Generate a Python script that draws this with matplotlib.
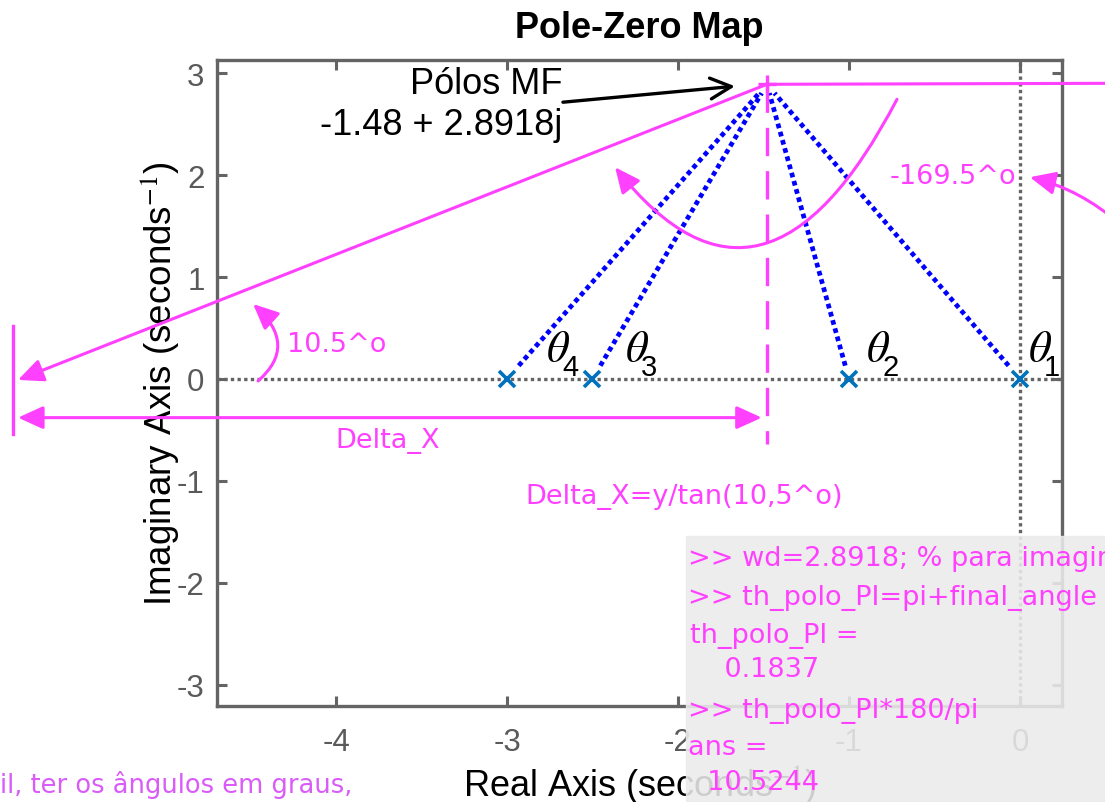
import numpy as np
import matplotlib.pyplot as plt
from matplotlib.patches import FancyArrowPatch, Rectangle
from matplotlib.path import Path

plt.rcParams['font.family'] = ['Liberation Sans', 'DejaVu Sans']
plt.rcParams['mathtext.fontset'] = 'stix'
plt.rcParams['axes.unicode_minus'] = False

# open-loop poles, the closed-loop pole and the axis ticks
ol_poles = [0.0, -1.0, -2.5, -3.0]
theta_subs = ['1', '2', '3', '4']
theta_x = [0.047, -0.90, -2.31, -2.77]
cl_re, cl_im = -1.48, 2.8918
x_ticks = [-4, -3, -2, -1, 0]
y_ticks = [-3, -2, -1, 0, 1, 2, 3]

# hand notes
angle_small = '10.5^o'
angle_big = '-169.5^o'
console_lines = ['>> wd=2.8918; % para imaginária',
                 '>> th_polo_PI=pi+final_angle',
                 'th_polo_PI =',
                 '    0.1837',
                 '>> th_polo_PI*180/pi',
                 'ans =',
                 '  10.5244']
console_y = [558, 598, 636, 670, 711, 748, 783]
console_x = [688, 688, 690, 690, 688, 688, 690]

arc_small = [(-4.456, -0.02), (-4.219, 0.328), (-4.485, 0.735)]
arc_big = [(-0.719, 2.745), (-1.497, 0.235), (-2.368, 2.078)]
arc_right = [(0.585, 1.52), (0.351, 1.863), (0.058, 1.98)]

MAG = '#ff40ff'
GRAY = '#646464'
NOTE_FONT = 'DejaVu Sans'
HEAD = '-|>,head_length=0.55,head_width=0.25'

fig = plt.figure(figsize=(11.05, 8.03), dpi=100)
ax = fig.add_axes([0.1964, 0.1196, 0.7647, 0.8044])
ax.set_xlim(-4.696, 0.246)
ax.set_ylim(-3.21, 3.13)

for s in ax.spines.values():
    s.set_color(GRAY)
    s.set_linewidth(2.4)
ax.set_xticks(x_ticks)
ax.set_yticks(y_ticks)
ax.tick_params(direction='in', length=7, width=2.2, color=GRAY,
               labelcolor='#5a5a5a', labelsize=22.5, top=True, right=True)
ax.tick_params(axis='x', pad=15)
ax.tick_params(axis='y', pad=9)

ax.set_title('Pole-Zero Map', fontsize=26, fontweight='bold', y=1.051, va='center', pad=0)
ax.set_xlabel(r'Real Axis (seconds$^{-1}$)', fontsize=26, va='center')
ax.xaxis.set_label_coords(0.5, -0.1207)
ax.set_ylabel(r'Imaginary Axis (seconds$^{-1}$)', fontsize=26.5, va='center')
ax.yaxis.set_label_coords(-0.0675, 0.5)

# zero lines of the s-plane
ax.axhline(0, color=GRAY, ls=(0, (1, 1)), lw=2.4, zorder=1)
ax.axvline(0, color=GRAY, ls=(0, (1, 1)), lw=2.4, zorder=1)

# angle contributions from each open-loop pole
for p in ol_poles:
    x0 = p + 0.045 * (cl_re - p)
    y0 = 0.045 * cl_im
    x1 = p + 0.97 * (cl_re - p)
    y1 = 0.97 * cl_im
    ax.plot([x0, x1], [y0, y1], color='#0000ff', lw=3.4, ls=(0, (1, 0.8)), zorder=2)
ax.plot(ol_poles, np.zeros(len(ol_poles)), 'x', color='#0072bd', ms=11, mew=2.6, zorder=5)
for sub, tx in zip(theta_subs, theta_x):
    ax.text(tx, 0.18, r'$\theta$', fontsize=32, color='black', va='baseline', ha='left')
    ax.text(tx + 0.095, 0.035, sub, fontsize=21, color='black', va='baseline', ha='left')

# closed-loop pole and construction lines
ax.plot([cl_re], [cl_im], '+', color=MAG, ms=13, mew=2.4, zorder=6)
ax.plot([cl_re, 0.6], [cl_im, cl_im + 0.01], color=MAG, lw=2.2, clip_on=False, zorder=4)
ax.plot([cl_re, cl_re], [cl_im, -0.64], color=MAG, lw=2.4, dashes=(8.5, 4.5), zorder=4)
ax.plot([-5.89, -5.89], [0.52, -0.54], color=MAG, lw=2.4, clip_on=False)
ax.annotate('', xy=(-5.86, -0.01), xytext=(cl_re, cl_im), annotation_clip=False,
            arrowprops=dict(arrowstyle=HEAD, color=MAG, lw=2.2,
                            mutation_scale=28, shrinkA=0, shrinkB=0))
ax.annotate('', xy=(-5.86, -0.38), xytext=(-1.51, -0.38), annotation_clip=False,
            arrowprops=dict(arrowstyle='<|-|>,head_length=0.55,head_width=0.25',
                            color=MAG, lw=2.2, mutation_scale=28, shrinkA=0, shrinkB=0))

for pts, clip in [(arc_small, True), (arc_big, True), (arc_right, False)]:
    path = Path(pts, [Path.MOVETO, Path.CURVE3, Path.CURVE3])
    arr = FancyArrowPatch(path=path, arrowstyle=HEAD, color=MAG, lw=2.2,
                          mutation_scale=28, clip_on=clip, zorder=4)
    ax.add_patch(arr)

note = dict(color=MAG, fontsize=19.5, family=NOTE_FONT, va='center', ha='left')
ax.text(-4.287, 0.343, angle_small, **note)
ax.text(-0.76, 1.99, angle_big, **note)
ax.text(-4.006, -0.60, 'Delta_X', clip_on=False, **note)
ax.text(-2.895, -1.147, 'Delta_X=y/tan(10,5^o)', **note)

# pole callout
ax.text(-2.678, 2.70, 'Pólos MF\n-1.48 + 2.8918j', fontsize=26, ha='right',
        va='center', multialignment='right', linespacing=1.2)
ax.annotate('', xy=(-1.667, 2.873), xytext=(-2.673, 2.716),
            arrowprops=dict(arrowstyle='->,head_length=0.6,head_width=0.3',
                            color='black', lw=2.4, mutation_scale=25,
                            shrinkA=0, shrinkB=0))

# console output panel
W, H = 1105, 803
fig.patches.append(Rectangle((686 / W, 0), 1 - 686 / W, (H - 537) / H,
                             transform=fig.transFigure, color='#ebebeb',
                             alpha=0.88, zorder=10))
for line, cx, cy in zip(console_lines, console_x, console_y):
    fig.text(cx / W, 1 - cy / H, line, color=MAG, fontsize=19.5, family=NOTE_FONT,
             va='center', ha='left', zorder=11)

fig.text(0, 1 - 785 / H, 'il, ter os ângulos em graus,', color='#da5cf8',
         fontsize=18.5, family=NOTE_FONT, va='center', ha='left')

fig.savefig('out.png', dpi=100)
